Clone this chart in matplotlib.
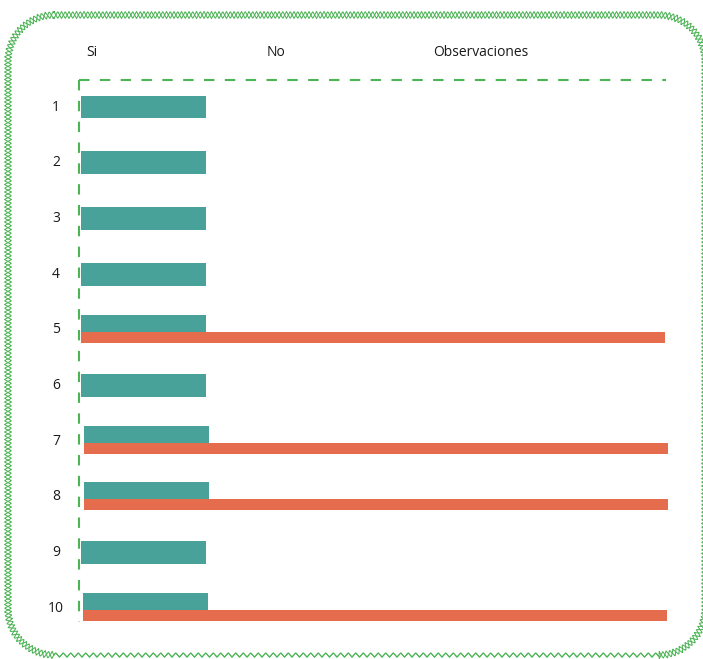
import numpy as np
import matplotlib.pyplot as plt
from matplotlib import transforms

plt.rcParams['font.family'] = ['Open Sans', 'DejaVu Sans']
plt.rcParams['lines.scale_dashes'] = False

# data
rows = ['1', '2', '3', '4', '5', '6', '7', '8', '9', '10']
headers = ['Si', 'No', 'Observaciones']
si_start = [2, 2, 2, 2, 2, 2, 5, 5, 2, 4]
si_len = [125, 125, 125, 125, 125, 125, 125, 125, 125, 125]
obs_len = [0, 0, 0, 0, 584, 0, 584, 584, 0, 584]

TEAL = '#48a299'
ORANGE = '#e66c4e'
GREEN = '#4db455'

W, H = 703, 659
fig = plt.figure(figsize=(W / 100, H / 100), dpi=100)

# background axes in pixel coords
bg = fig.add_axes([0, 0, 1, 1])
bg.set_xlim(0, W)
bg.set_ylim(H, 0)
bg.axis('off')


def rounded_rect(x0, y0, x1, y1, r, step=0.5):
    """sample a rounded rectangle, return points, normals, bottom-flag"""
    pts, nrm, bot = [], [], []
    segs = []
    # straight pieces and corners, clockwise starting top-left
    segs.append(('l', (x0 + r, y0), (x1 - r, y0), (0, -1)))
    segs.append(('a', (x1 - r, y0 + r), -90, 0))
    segs.append(('l', (x1, y0 + r), (x1, y1 - r), (1, 0)))
    segs.append(('a', (x1 - r, y1 - r), 0, 90))
    segs.append(('l', (x1 - r, y1), (x0 + r, y1), (0, 1)))
    segs.append(('a', (x0 + r, y1 - r), 90, 180))
    segs.append(('l', (x0, y1 - r), (x0, y0 + r), (-1, 0)))
    segs.append(('a', (x0 + r, y0 + r), 180, 270))
    for s in segs:
        if s[0] == 'l':
            (ax_, ay_), (bx_, by_), n = s[1], s[2], s[3]
            L = np.hypot(bx_ - ax_, by_ - ay_)
            t = np.arange(0, L, step) / L
            for tt in t:
                pts.append((ax_ + (bx_ - ax_) * tt, ay_ + (by_ - ay_) * tt))
                nrm.append(n)
                bot.append(n == (0, 1))
        else:
            (cx, cy), a0, a1 = s[1], s[2], s[3]
            L = np.deg2rad(a1 - a0) * r
            for tt in np.arange(0, L, step) / L:
                a = np.deg2rad(a0 + (a1 - a0) * tt)
                pts.append((cx + r * np.cos(a), cy + r * np.sin(a)))
                nrm.append((np.cos(a), np.sin(a)))
                bot.append(False)
    return np.array(pts), np.array(nrm, dtype=float), np.array(bot)


pts, nrm, bot = rounded_rect(8, 15, 705, 655, 46)
s = np.arange(len(pts)) * 0.5
period = 7.5
tri = 2 * np.abs((s / period) % 1 - 0.5) - 0.5  # -0.5..0.5
amp = 7.0
off1 = np.where(bot, amp * 0.6 * tri, amp * tri)
off2 = np.where(bot, amp * 0.6 * tri, -amp * tri)
for off in (off1, off2):
    p = pts + nrm * off[:, None]
    p = np.vstack([p, p[:1]])
    bg.plot(p[:, 0], p[:, 1], color=GREEN, lw=0.75)

# dashed frame
bg.plot([79, 666], [80, 80], color=GREEN, lw=1.5, ls=(0, (7.5, 7.5)))
bg.plot([79, 79], [80, 622], color=GREEN, lw=1.5, ls=(0, (7.5, 7.5)))

# headers
for h, x, ha in zip(headers, [86, 276, 481], ['left', 'center', 'center']):
    bg.text(x, 53, h, ha=ha, va='center', fontsize=10, color='#1a1a1a')

# bars
ax = fig.add_axes([79 / W, 1 - 622 / H, (668 - 79) / W, (622 - 80) / H])
ax.set_xlim(0, 589)
ax.set_ylim(9.25, -0.485)
ax.axis('off')

trans = transforms.blended_transform_factory(ax.transAxes, ax.transData)
for i, r in enumerate(rows):
    if obs_len[i] > 0:
        ax.barh(i + 0.036 - 0.305 / 2, si_len[i], height=0.305, left=si_start[i],
                color=TEAL)
        ax.barh(i + 0.036 + 0.198 / 2, obs_len[i], height=0.198, left=si_start[i],
                color=ORANGE)
    else:
        ax.barh(i, si_len[i], height=0.413, left=si_start[i], color=TEAL)
    ax.text(-23 / 589, i, r, ha='center', va='center', fontsize=10,
            color='#1a1a1a', transform=trans)

fig.savefig('out.png', dpi=100)
